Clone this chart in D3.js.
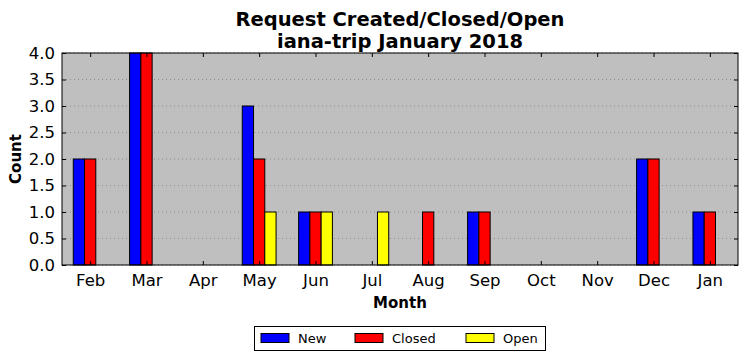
<!DOCTYPE html>
<html><head><meta charset="utf-8">
<script src="https://cdn.jsdelivr.net/npm/d3@7"></script>
<style>body{margin:0;background:#fff;} text{font-family:"DejaVu Sans",sans-serif;}</style>
</head><body>
<svg id="chart" width="747" height="361"></svg>
<script>
const months = ["Feb","Mar","Apr","May","Jun","Jul","Aug","Sep","Oct","Nov","Dec","Jan"];
const newVals = [2,4,0,3,1,0,0,1,0,0,2,1];
const closedVals = [2,4,0,2,1,0,1,1,0,0,2,1];
const openVals = [0,0,0,1,1,1,0,0,0,0,0,0];
const seriesNames = ["New","Closed","Open"];
const seriesColors = ["#0000ff","#ff0000","#ffff00"];
const yTicks = [0,0.5,1,1.5,2,2.5,3,3.5,4];

const svg = d3.select("#chart");
const L=62,R=738,T=53,B=265;
const x = d3.scaleLinear().domain([-0.5,11.5]).range([L,R]);
const y = d3.scaleLinear().domain([0,4]).range([B,T]);
const bw = 0.2;

svg.append("rect").attr("x",L).attr("y",T).attr("width",R-L).attr("height",B-T).attr("fill","#bfbfbf");

// grid
svg.append("g").selectAll("line").data(yTicks).join("line")
  .attr("x1",L).attr("x2",R).attr("y1",d=>y(d)).attr("y2",d=>y(d))
  .attr("stroke","#808080").attr("stroke-width",0.8).attr("stroke-dasharray","1,3");

const series = [newVals, closedVals, openVals];
series.forEach((vals,si)=>{
  const off = (si-1)*bw;
  svg.append("g").selectAll("rect").data(vals.map((v,i)=>({v,i}))).join("rect")
    .attr("x",d=>x(d.i+off-bw/2)).attr("width",x(bw)-x(0))
    .attr("y",d=>y(d.v)).attr("height",d=>y(0)-y(d.v))
    .attr("fill",seriesColors[si]).attr("stroke","#000").attr("stroke-width",1);
});

// frame
svg.append("rect").attr("x",L).attr("y",T).attr("width",R-L).attr("height",B-T)
  .attr("fill","none").attr("stroke","#000").attr("stroke-width",1);

// axes
const yAxis = d3.axisLeft(y).tickValues(yTicks).tickFormat(d3.format(".1f")).tickSizeInner(-4).tickSizeOuter(0).tickPadding(7);
const gy = svg.append("g").attr("transform",`translate(${L},0)`).call(yAxis);
gy.select(".domain").remove();
gy.selectAll("text").attr("font-size",16.5).attr("fill","#000");
const gyr = svg.append("g").attr("transform",`translate(${R},0)`).call(d3.axisRight(y).tickValues(yTicks).tickSizeInner(-4).tickSizeOuter(0).tickFormat(""));
gyr.select(".domain").remove();

const xAxis = d3.axisBottom(x).tickValues(d3.range(months.length)).tickFormat(i=>months[i]).tickSizeInner(-4).tickSizeOuter(0).tickPadding(9);
const gx = svg.append("g").attr("transform",`translate(0,${B})`).call(xAxis);
gx.select(".domain").remove();
gx.selectAll("text").attr("font-size",16.5).attr("fill","#000");
const gxt = svg.append("g").attr("transform",`translate(0,${T})`).call(d3.axisTop(x).tickValues(d3.range(months.length)).tickSizeInner(-4).tickSizeOuter(0).tickFormat(""));
gxt.select(".domain").remove();

// titles
svg.append("text").attr("x",400).attr("y",26).attr("text-anchor","middle").attr("font-size",19.5).attr("font-weight","bold").text("Request Created/Closed/Open");
svg.append("text").attr("x",400).attr("y",48).attr("text-anchor","middle").attr("font-size",19.5).attr("font-weight","bold").text("iana-trip January 2018");
svg.append("text").attr("x",400).attr("y",308).attr("text-anchor","middle").attr("font-size",15).attr("font-weight","bold").text("Month");
svg.append("text").attr("transform","translate(21,159) rotate(-90)").attr("text-anchor","middle").attr("font-size",15).attr("font-weight","bold").text("Count");

// legend
const lg = svg.append("g");
lg.append("rect").attr("x",254.5).attr("y",326.5).attr("width",291).attr("height",24).attr("fill","#fff").attr("stroke","#000").attr("stroke-width",1);
const lx = [261,355,466];
seriesNames.forEach((n,i)=>{
  lg.append("rect").attr("x",lx[i]).attr("y",333.5).attr("width",28).attr("height",9).attr("fill",seriesColors[i]).attr("stroke","#000");
  lg.append("text").attr("x",lx[i]+37).attr("y",343).attr("font-size",13).text(n);
});
</script>
</body></html>
